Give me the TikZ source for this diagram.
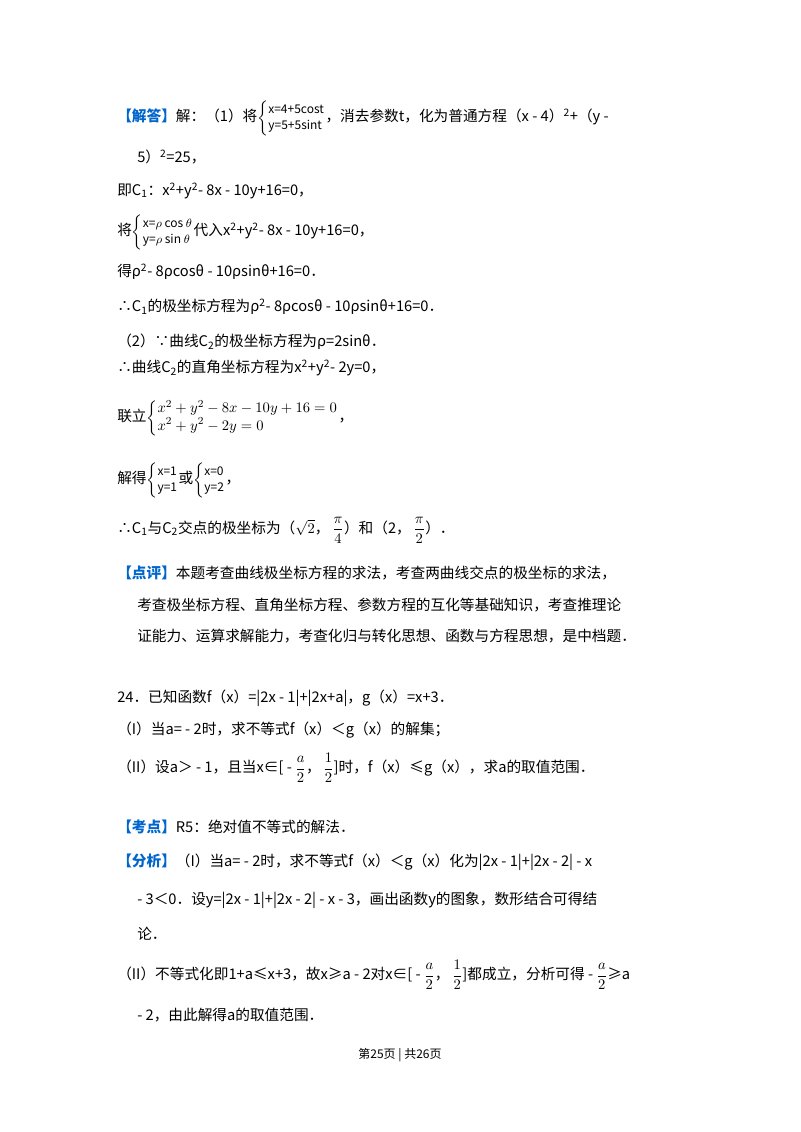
\documentclass[tikz,border=0pt]{standalone}
\usepackage{fontspec}
\setmainfont{Noto Sans CJK SC}
\usepackage{amsmath}
\definecolor{bl}{RGB}{0,102,204}
\newcommand{\sq}{\textsuperscript{2}}
\newcommand{\hl}[1]{\textcolor{bl}{\bfseries #1}}
\newcommand{\sys}[2]{$\left\{\begin{array}{@{}l@{}}\text{\small #1}\\[-1pt]\text{\small #2}\end{array}\right.$}
\begin{document}
\begin{tikzpicture}[x=0.75pt,y=-0.75pt,
  t/.style={anchor=west,inner sep=0pt,font=\fontsize{11}{13}\selectfont}]
\fill[white] (0,0) rectangle (800,1132);
\node[t] (l1) at (117,118) {\hl{【解答】}解：（1）将\sys{x=4+5cost}{y=5+5sint}，消去参数t，化为普通方程（x - 4）\sq+（y -};
\node[t] (l2) at (137,157) {5）\sq=25，};
\node[t] (l3) at (117,191) {即C\textsubscript{1}：x\sq+y\sq - 8x - 10y+16=0，};
\node[t] (l4) at (117,232) {将\sys{x=$\rho$ cos $\theta$}{y=$\rho$ sin $\theta$}代入x\sq+y\sq - 8x - 10y+16=0，};
\node[t] (l5) at (117,272) {得ρ\sq - 8ρcosθ - 10ρsinθ+16=0．};
\node[t] (l6) at (117,307) {∴C\textsubscript{1}的极坐标方程为ρ\sq - 8ρcosθ - 10ρsinθ+16=0．};
\node[t] (l7) at (117,342) {（2）∵曲线C\textsubscript{2}的极坐标方程为ρ=2sinθ．};
\node[t] (l8) at (117,368) {∴曲线C\textsubscript{2}的直角坐标方程为x\sq+y\sq - 2y=0，};
\node[t] (l9) at (117,418) {联立$\left\{\begin{array}{@{}l@{}}x^2+y^2-8x-10y+16=0\\ x^2+y^2-2y=0\end{array}\right.$，};
\node[t] (l10) at (117,480) {解得\sys{x=1}{y=1}或\sys{x=0}{y=2}，};
\node[t] (l11) at (117,530) {∴C\textsubscript{1}与C\textsubscript{2}交点的极坐标为（$\sqrt{2}$，\,$\dfrac{\pi}{4}$）和（2，\,$\dfrac{\pi}{2}$）．};
\node[t] (l12) at (117,573) {\hl{【点评】}本题考查曲线极坐标方程的求法，考查两曲线交点的极坐标的求法，};
\node[t] (l13) at (137,605) {考查极坐标方程、直角坐标方程、参数方程的互化等基础知识，考查推理论};
\node[t] (l14) at (137,636) {证能力、运算求解能力，考查化归与转化思想、函数与方程思想，是中档题．};
\node[t] (l15) at (117,698) {24．已知函数f（x）=|2x - 1|+|2x+a|，g（x）=x+3．};
\node[t] (l16) at (117,730) {（I）当a= - 2时，求不等式f（x）＜g（x）的解集；};
\node[t] (l17) at (117,768) {（II）设a＞ - 1，且当x∈[ - $\dfrac{a}{2}$，\,$\dfrac{1}{2}$]时，f（x）≤g（x），求a的取值范围．};
\node[t] (l18) at (117,827) {\hl{【考点】}R5：绝对值不等式的解法．};
\node[t] (l19) at (117,862) {\hl{【分析】}（I）当a= - 2时，求不等式f（x）＜g（x）化为|2x - 1|+|2x - 2| - x};
\node[t] (l20) at (137,900) {- 3＜0．设y=|2x - 1|+|2x - 2| - x - 3，画出函数y的图象，数形结合可得结};
\node[t] (l21) at (137,934) {论．};
\node[t] (l22) at (117,975) {（II）不等式化即1+a≤x+3，故x≥a - 2对x∈[ - $\dfrac{a}{2}$，\,$\dfrac{1}{2}$]都成立，分析可得 - $\dfrac{a}{2}$≥a};
\node[t] (l23) at (137,1015) {- 2，由此解得a的取值范围．};
\node[anchor=center,inner sep=0pt,font=\fontsize{9}{11}\selectfont] (ft) at (400,1055) {第25页 | 共26页};
\end{tikzpicture}
\end{document}
